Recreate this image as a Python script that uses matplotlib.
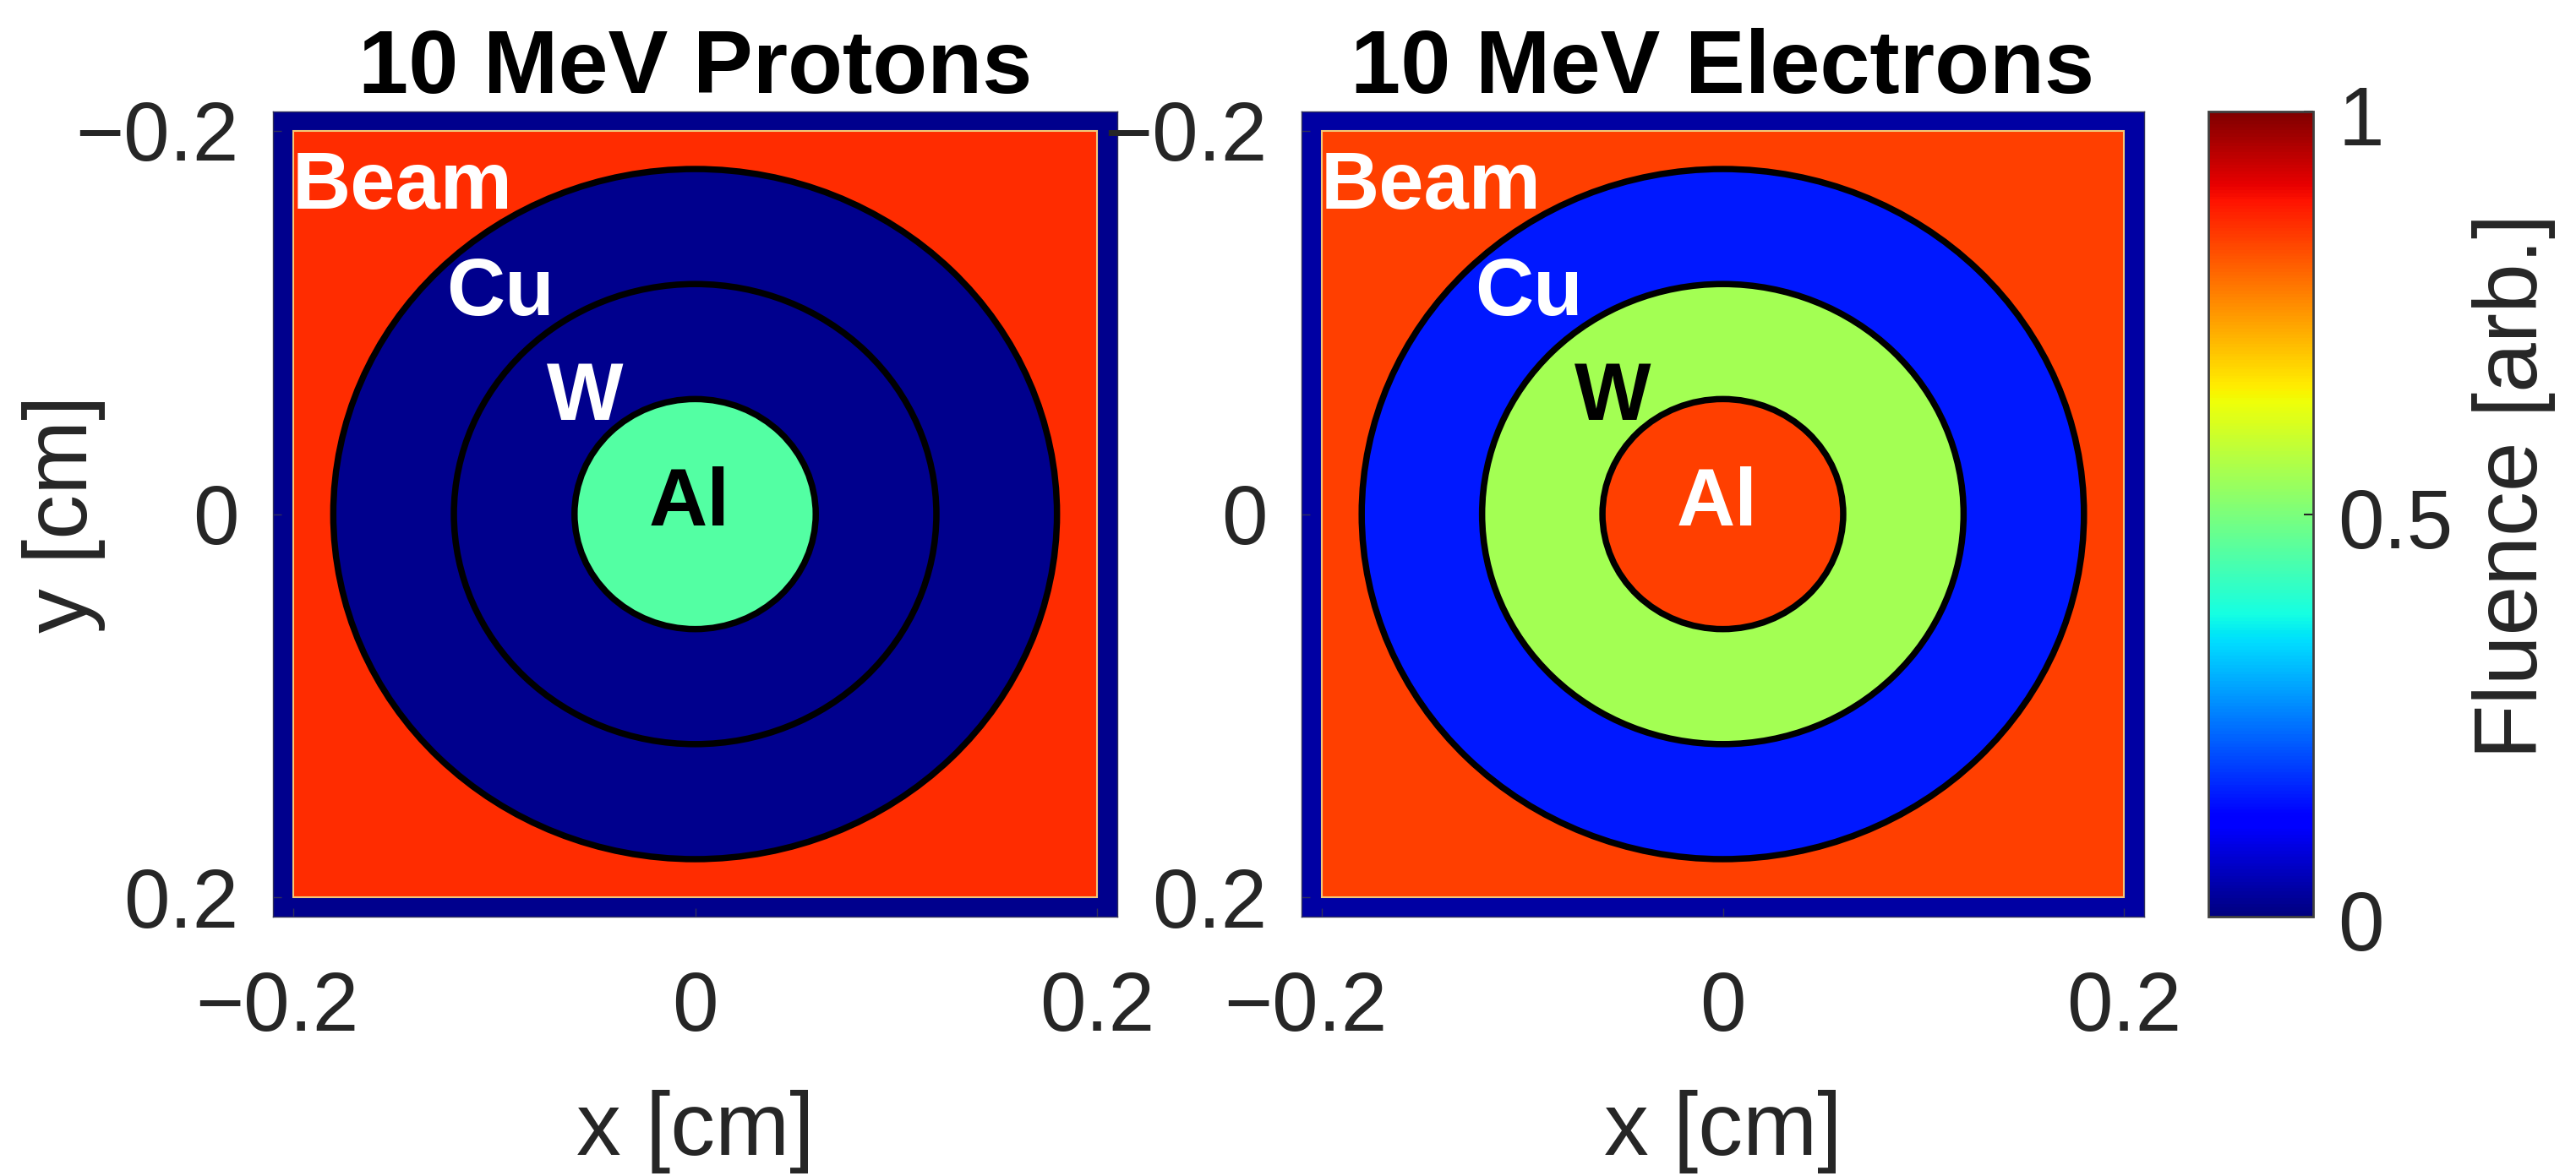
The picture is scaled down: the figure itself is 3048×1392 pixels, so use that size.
import numpy as np
import matplotlib
matplotlib.use("Agg")
import matplotlib.pyplot as plt
from matplotlib.patches import Circle, Rectangle
from matplotlib.transforms import ScaledTranslation

# ---- values ----
titles = ["10 MeV Protons", "10 MeV Electrons"]
ring_radii = [0.06, 0.12, 0.18]          # cm: Al / W / Cu outer radii
beam_half = 0.20                         # cm
axis_half = 0.21                         # cm
region_names = ["Al", "W", "Cu", "Beam", "Outside"]
protons_fluence = [0.45, 0.015, 0.015, 0.86, 0.015]   # region means
electrons_fluence = [0.84, 0.55, 0.15, 0.84, 0.035]   # region means
ticks = [-0.2, 0, 0.2]
tick_labels = ["\u22120.2", "0", "0.2"]
cbar_ticks = [0, 0.5, 1]
cbar_labels = ["0", "0.5", "1"]
label_text = ["Beam", "Cu", "W", "Al"]
label_x = [-0.2006, -0.1237, -0.0738, -0.0231]
label_y = [-0.1594, -0.1037, -0.0490, 0.0060]
protons_label_colors = ["white", "white", "white", "black"]
electrons_label_colors = ["white", "white", "black", "white"]

W, H = 3048, 1392
plt.rcParams["font.family"] = ["Liberation Sans", "DejaVu Sans"]
DARK = "#262626"
fig = plt.figure(figsize=(W / 100, H / 100), dpi=100, facecolor="white")


def box(l, t, r, b):
    return [l / W, 1 - b / H, (r - l) / W, (b - t) / H]


def region_map(values):
    n = 1000
    c = np.linspace(-axis_half, axis_half, n)
    X, Y = np.meshgrid(c, c)
    R = np.hypot(X, Y)
    img = np.full(X.shape, values[4], dtype=float)
    img[(np.abs(X) <= beam_half) & (np.abs(Y) <= beam_half)] = values[3]
    img[R <= ring_radii[2]] = values[2]
    img[R <= ring_radii[1]] = values[1]
    img[R <= ring_radii[0]] = values[0]
    return img


boxes = [(323, 132, 1322, 1085), (1540, 132, 2537, 1085)]
series = [protons_fluence, electrons_fluence]
colors = [protons_label_colors, electrons_label_colors]
im = None
for i in range(2):
    ax = fig.add_axes(box(*boxes[i]))
    im = ax.imshow(region_map(series[i]), cmap="jet", vmin=0, vmax=1,
                   extent=[-axis_half, axis_half, axis_half, -axis_half],
                   interpolation="nearest", aspect="auto")
    ax.add_patch(Rectangle((-beam_half, -beam_half), 2 * beam_half, 2 * beam_half,
                           fill=False, ec="#f2c878", lw=1.5, zorder=2))
    for r in ring_radii:
        ax.add_patch(Circle((0, 0), r, fill=False, ec="black", lw=5.4, zorder=3))
    ax.set_xlim(-axis_half, axis_half)
    ax.set_ylim(axis_half, -axis_half)
    ax.set_xticks(ticks)
    ax.set_xticklabels(tick_labels)
    ax.set_yticks(ticks)
    ax.set_yticklabels(tick_labels)
    ax.tick_params(direction="in", length=7, width=1, color="#30305a",
                   labelsize=70.5, labelcolor=DARK)
    ax.tick_params(axis="x", pad=46)
    ax.tick_params(axis="y", pad=29)
    lab = ax.get_xticklabels()[0]
    lab.set_transform(lab.get_transform() + ScaledTranslation(-19 / 100, 0, fig.dpi_scale_trans))
    for s in ax.spines.values():
        s.set_color("#30305a")
        s.set_linewidth(1)
    ax.set_title(titles[i], fontsize=76.5, fontweight="bold", color="black", pad=12)
    ax.set_xlabel("x [cm]", fontsize=76, color=DARK)
    ax.xaxis.set_label_coords(0.5, -0.215)
    if i == 0:
        ax.set_ylabel("y [cm]", fontsize=76, color=DARK)
        ax.yaxis.set_label_coords(-0.198, 0.5)
    for t, x, y, c in zip(label_text, label_x, label_y, colors[i]):
        ax.text(x, y, t, fontsize=69, fontweight="bold", color=c, ha="left",
                va="baseline", zorder=4)

cax = fig.add_axes(box(2613, 132, 2737, 1085))
cb = fig.colorbar(im, cax=cax)
cb.set_ticks(cbar_ticks)
cb.set_ticklabels(cbar_labels)
cb.ax.tick_params(direction="in", length=8, width=1.5, color=DARK,
                  labelsize=70.5, labelcolor=DARK, pad=21)
for lab in cb.ax.get_yticklabels():
    lab.set_transform(lab.get_transform() + ScaledTranslation(0, -5 / 100, fig.dpi_scale_trans))
cb.outline.set_edgecolor("#404040")
cb.outline.set_linewidth(2)
cb.set_label("Fluence [arb.]", fontsize=76, color=DARK)
cb.ax.yaxis.set_label_coords(2.52, 0.535)

fig.savefig("out.png", dpi=100, facecolor="white")
